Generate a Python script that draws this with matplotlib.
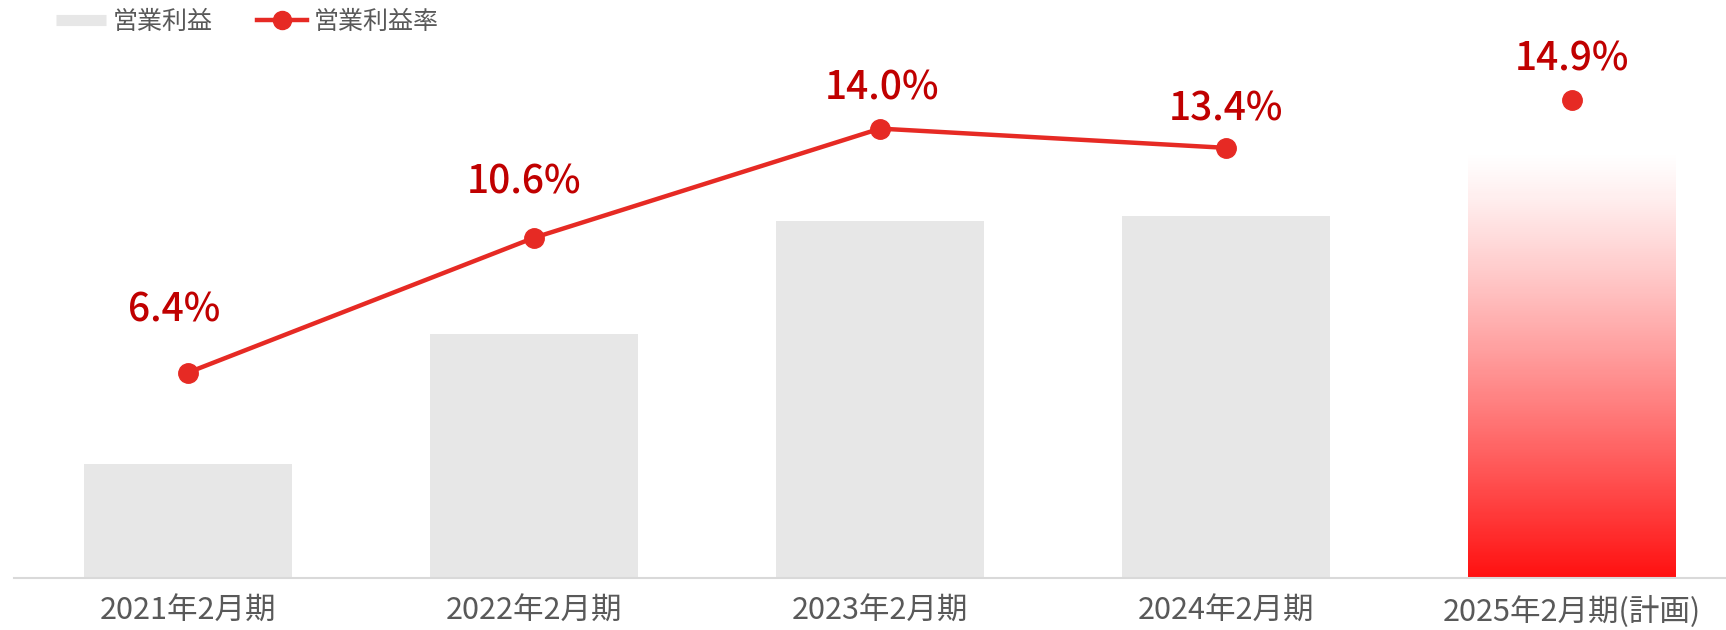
import numpy as np
import matplotlib
matplotlib.use("Agg")
import matplotlib.pyplot as plt
from matplotlib.lines import Line2D

plt.rcParams['font.family'] = ['Noto Sans CJK JP', 'DejaVu Sans']

# 期別データ
periods = ['2021年2月期', '2022年2月期', '2023年2月期', '2024年2月期', '2025年2月期(計画)']
operating_profit = [57, 122, 178.5, 181, 214]      # 営業利益(推定値)
profit_margin = [6.4, 10.6, 14.0, 13.4, 14.9]     # 営業利益率(%)
margin_labels = ['6.4%', '10.6%', '14.0%', '13.4%', '14.9%']

BAR_GRAY = '#e7e7e7'
LINE_RED = '#e62a24'
LABEL_RED = '#c00000'
TEXT_GRAY = '#595959'

fig = plt.figure(figsize=(17.26, 6.30), dpi=100)
ax = fig.add_axes([14 / 1726, 52 / 630, 1 - 14 / 1726, 548 / 630])
ax2 = ax.twinx()

x = np.arange(len(periods))
width = 0.6

# 実績分はグレーの棒、計画分は赤のグラデーション
ax.bar(x[:-1], operating_profit[:-1], width=width, color=BAR_GRAY, zorder=1)

grad = np.zeros((256, 1, 4))
t = np.linspace(0, 1, 256)          # 0 = 下端, 1 = 上端
grad[:, 0, 0] = 1.0
grad[:, 0, 1] = 0.06
grad[:, 0, 2] = 0.06
grad[:, 0, 3] = (1 - t) ** 1.2
ax.imshow(grad, origin='lower', aspect='auto', interpolation='bilinear',
          extent=[x[-1] - width / 2, x[-1] + width / 2, 0, operating_profit[-1]],
          zorder=1)
ax.set_xlim(-0.503, 4.445)
ax.set_ylim(0, 274)

# 営業利益率（実績は折れ線、計画は点のみ）
ax2.plot(x[:-1], profit_margin[:-1], color=LINE_RED, lw=3.2, marker='o',
         markersize=14, zorder=3)
ax2.plot(x[-1], profit_margin[-1], color=LINE_RED, marker='o', markersize=14,
         linestyle='none', zorder=3)
ax2.set_ylim(0, 548 / 32.1)

label_offsets = [(-14, 62), (-10, 55), (2, 40), (0, 38), (0, 40)]
for xi, val, txt, off in zip(x, profit_margin, margin_labels, label_offsets):
    ax2.annotate(txt, (xi, val), xytext=off, textcoords='offset pixels',
                 ha='center', va='center', fontsize=28, fontweight='medium',
                 color=LABEL_RED)

for a in (ax, ax2):
    for side in ('top', 'right', 'left'):
        a.spines[side].set_visible(False)
    a.set_yticks([])
ax2.spines['bottom'].set_visible(False)
ax.spines['bottom'].set_color('#d9d9d9')
ax.spines['bottom'].set_linewidth(1.5)

ax.set_xticks(x)
ax.set_xticklabels(periods, fontsize=22, color=TEXT_GRAY)
ax.tick_params(axis='x', length=0, pad=13)

handles = [
    Line2D([], [], color=BAR_GRAY, lw=8, solid_capstyle='butt'),
    Line2D([], [], color=LINE_RED, lw=3.2, marker='o', markersize=13),
]
leg = fig.legend(handles, ['営業利益', '営業利益率'], loc='upper left',
                 bbox_to_anchor=(56 / 1726, 1 - 9 / 630), ncol=2, frameon=False,
                 fontsize=18, handlelength=2.0, handletextpad=0.25,
                 columnspacing=1.8, borderpad=0, borderaxespad=0)
for text in leg.get_texts():
    text.set_color(TEXT_GRAY)

fig.savefig('out.png', dpi=100)
